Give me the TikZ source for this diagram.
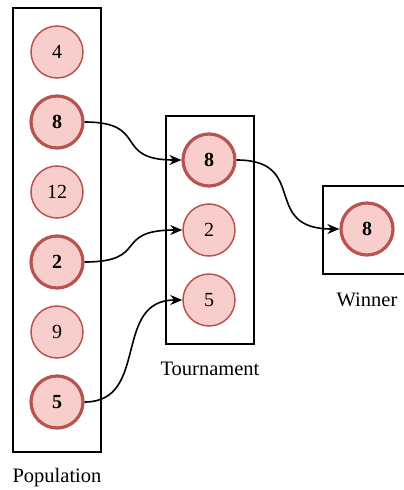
\documentclass[tikz,border=0pt]{standalone}
\usepackage{fontspec}
\setmainfont{Liberation Serif}
\usetikzlibrary{arrows.meta}
\begin{document}
\begin{tikzpicture}[x=1pt,y=-1pt,
  group/.style={draw=black,line width=1.6pt,minimum width=88pt,inner sep=0pt},
  indiv/.style={circle,draw=indred,fill=indfill,line width=1.5pt,minimum size=52pt,inner sep=0pt,font=\fontsize{20}{24}\selectfont},
  chosen/.style={indiv,line width=3.2pt,font=\fontsize{20}{24}\selectfont\bfseries},
  caption/.style={font=\fontsize{20.5}{24}\selectfont},
  link/.style={line width=1.6pt,-{Stealth[length=12pt,width=10pt]}}]
\definecolor{indred}{HTML}{B85450}
\definecolor{indfill}{HTML}{F8CECC}
\useasboundingbox (0,0) rectangle (404,490);
% group frames
\node[group,minimum height=444pt] (pop) at (57,230) {};
\node[group,minimum height=228pt] (tour) at (210,230) {};
\node[group,minimum height=88pt] (win) at (367,230) {};
% population
\node[indiv]  (p4)  at (57,52)  {4};
\node[chosen] (p8)  at (57,122) {8};
\node[indiv]  (p12) at (57,192) {12};
\node[chosen] (p2)  at (57,262) {2};
\node[indiv]  (p9)  at (57,332) {9};
\node[chosen] (p5)  at (57,402) {5};
% tournament
\node[chosen] (t8) at (209,160) {8};
\node[indiv]  (t2) at (209,230) {2};
\node[indiv]  (t5) at (209,300) {5};
% winner
\node[chosen] (w8) at (367,229) {8};
% captions
\node[caption] (lpop)  at (57,478)  {Population};
\node[caption] (ltour) at (210,369) {Tournament};
\node[caption] (lwin)  at (367,300) {Winner};
% selections
\draw[link] (p8.east) .. controls (150,122) and (112,160) .. (t8.west);
\draw[link] (p2.east) .. controls (150,262) and (112,230) .. (t2.west);
\draw[link] (p5.east) .. controls (150,402) and (112,300) .. (t5.west);
\draw[link] (t8.east) .. controls (310,160) and (260,229) .. (w8.west);
\end{tikzpicture}
\end{document}
